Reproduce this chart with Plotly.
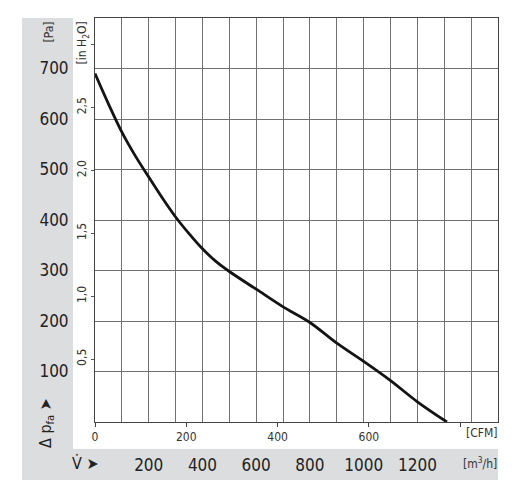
import plotly.graph_objects as go

# fan curve (x in m³/h, y in Pa)
FLOW_M3H = [0, 50, 100, 150, 200, 250, 300, 350, 400, 450, 500, 600, 700, 800, 900, 1000, 1100, 1200, 1310]
PRESSURE_PA = [690, 630, 574, 527, 485, 444, 406, 373, 343, 318, 298, 263, 228, 197, 156, 120, 82, 40, 0]

M3H_GRID = list(range(0, 1600, 100))
M3H_LABELS = [200, 400, 600, 800, 1000, 1200]
PA_GRID = list(range(0, 900, 100))
PA_LABELS = [100, 200, 300, 400, 500, 600, 700]
CFM_TICKS = [0, 200, 400, 600, 800]
CFM_LABELS = ["0", "200", "400", "600", ""]
INH2O_TICKS = [0.5, 1.0, 1.5, 2.0, 2.5, 3.0]
INH2O_LABELS = ["0,5", "1,0", "1,5", "2,0", "2,5", "[in H<sub>2</sub>O]"]

M3H_PER_CFM = 1.69901
PA_PER_INH2O = 249.089
X_MAX = 1500
Y_MAX = 800

FONT = "Liberation Sans Narrow, DejaVu Sans Condensed, Arial Narrow, sans-serif"
PANEL = "#dcdddf"
GRID = "#727272"
TEXT = "#222222"


def note(text, x, y, size, angle=0, color="#333333"):
    return dict(text=text, x=x, y=y, xref="paper", yref="paper", showarrow=False,
                xanchor="center", yanchor="middle", textangle=angle,
                font=dict(size=size, color=color))


fig = go.Figure()
fig.add_trace(
    go.Scatter(
        x=FLOW_M3H,
        y=PRESSURE_PA,
        mode="lines",
        line=dict(color="#141414", width=2.8, shape="spline", smoothing=1.0),
        showlegend=False,
        hoverinfo="skip",
    )
)
# empty traces so the secondary axes get drawn
fig.add_trace(go.Scatter(x=[None], y=[None], xaxis="x2", yaxis="y", showlegend=False))
fig.add_trace(go.Scatter(x=[None], y=[None], xaxis="x", yaxis="y2", showlegend=False))

# page body has an 8px margin, so the figure is 8px smaller than the window
fig.update_layout(
    width=511,
    height=493,
    autosize=False,
    margin=dict(l=87, r=21, t=10, b=79),
    paper_bgcolor="white",
    plot_bgcolor="white",
    font=dict(family=FONT, color=TEXT),
    xaxis=dict(
        range=[0, X_MAX],
        tickmode="array",
        tickvals=M3H_GRID,
        ticktext=[str(v) if v in M3H_LABELS else "" for v in M3H_GRID],
        ticks="",
        ticklabelstandoff=28,
        tickfont=dict(size=17, color=TEXT),
        showgrid=True,
        gridcolor=GRID,
        gridwidth=1,
        zeroline=False,
        showline=True,
        linecolor="#444444",
        linewidth=1,
        mirror=True,
        fixedrange=True,
    ),
    xaxis2=dict(
        range=[0, X_MAX / M3H_PER_CFM],
        overlaying="x",
        anchor="y",
        side="bottom",
        tickmode="array",
        tickvals=CFM_TICKS,
        ticktext=CFM_LABELS,
        ticks="outside",
        ticklen=4,
        tickcolor="#444444",
        tickfont=dict(size=12, color="#333333"),
        showgrid=False,
        zeroline=False,
        showline=False,
    ),
    yaxis=dict(
        range=[0, Y_MAX],
        tickmode="array",
        tickvals=PA_GRID,
        ticktext=[str(v) if v in PA_LABELS else "" for v in PA_GRID],
        ticks="",
        ticklabelstandoff=22,
        tickfont=dict(size=17, color=TEXT),
        showgrid=True,
        gridcolor=GRID,
        gridwidth=1,
        zeroline=False,
        showline=True,
        linecolor="#444444",
        linewidth=1,
        mirror=True,
        fixedrange=True,
    ),
    yaxis2=dict(
        range=[0, Y_MAX / PA_PER_INH2O],
        overlaying="y",
        anchor="x",
        side="left",
        tickmode="array",
        tickvals=INH2O_TICKS,
        ticktext=INH2O_LABELS,
        tickangle=-90,
        ticks="outside",
        ticklen=3,
        tickcolor="#555555",
        tickfont=dict(size=12, color="#333333"),
        showgrid=False,
        zeroline=False,
        showline=False,
    ),
    shapes=[
        dict(type="rect", xref="paper", yref="paper", x0=-0.1811, x1=-0.0546, y0=-0.1436, y1=1.0,
             fillcolor=PANEL, line=dict(width=0), layer="below"),
        dict(type="rect", xref="paper", yref="paper", x0=-0.1811, x1=1.0, y0=-0.1436, y1=-0.0668,
             fillcolor=PANEL, line=dict(width=0), layer="below"),
    ],
    annotations=[
        note("[Pa]", -0.1117, 0.9666, 12, angle=-90),
        note("Δ p<sub>fa</sub> ➤", -0.1216, -0.0025, 16, angle=-90, color=TEXT),
        note("V\u0307 ➤", -0.0248, -0.1015, 16, color=TEXT),
        note("[CFM]", 0.960, -0.0272, 12),
        note("[m<sup>3</sup>/h]", 0.955, -0.1015, 12),
    ],
)

fig.write_html("out.html")
